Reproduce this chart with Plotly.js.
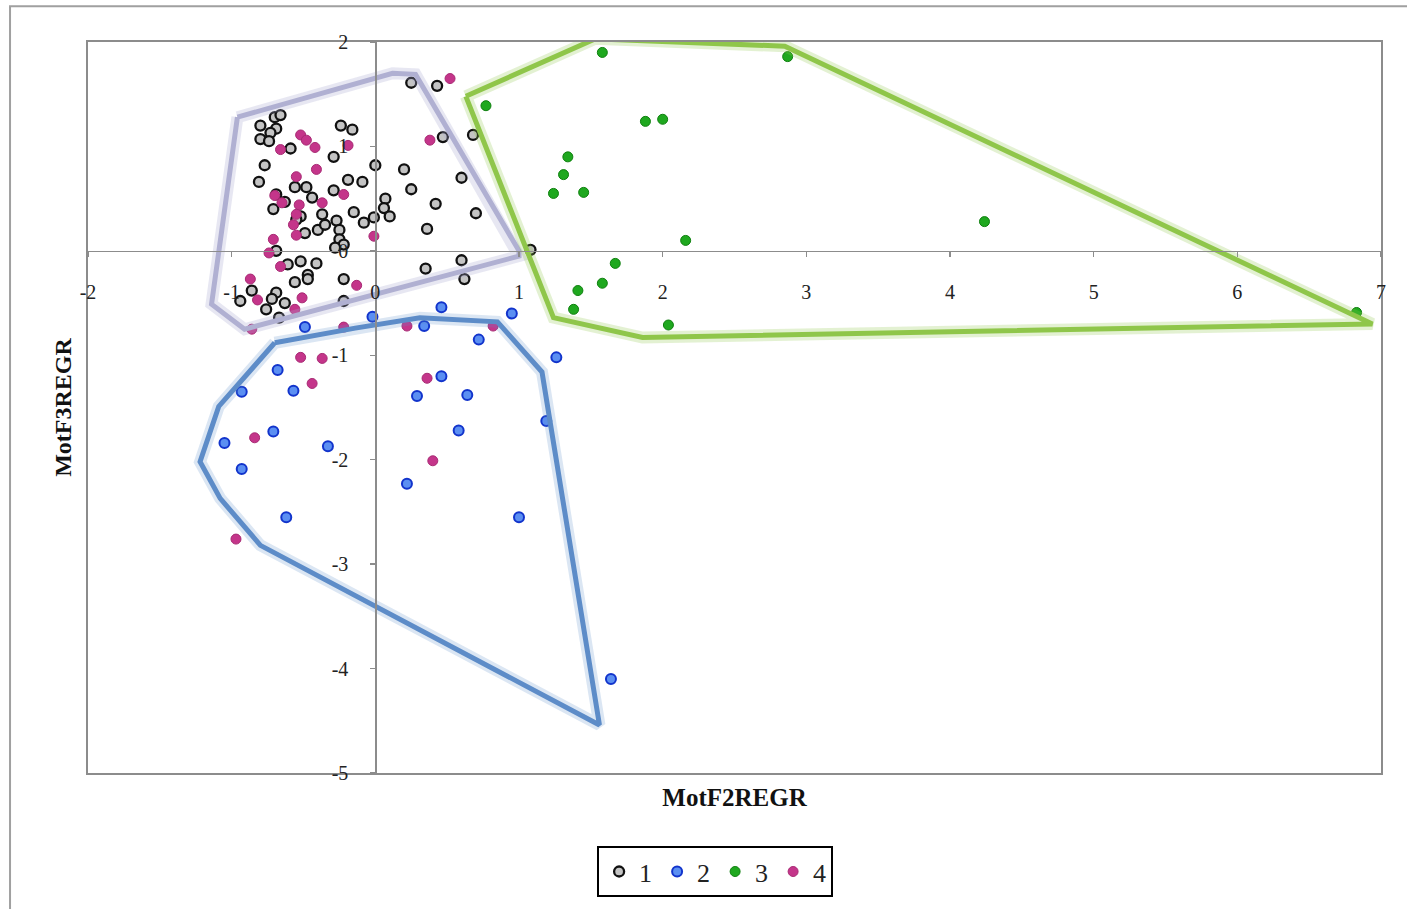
<!DOCTYPE html>
<html>
<head>
<meta charset="utf-8">
<script src="https://cdn.plot.ly/plotly-3.0.1.min.js"></script>
<style>html,body{margin:0;padding:0;background:#fff;}#chart{width:1407px;height:909px;}</style>
</head>
<body>
<div id="chart"></div>
<script>
// ---- data ----
const seriesNames = ["1", "2", "3", "4"];

const g1x = [0.25,0.43,-0.70,-0.66,-0.80,-0.69,-0.73,-0.80,-0.74,-0.24,-0.16,-0.59,0.47,0.68,-0.29,0.00,0.20,-0.77,-0.81,0.25,0.60,-0.19,-0.09,-0.48,-0.56,-0.29,0.42,0.70,0.07,0.06,0.10,-0.01,-0.08,-0.15,0.36,-0.27,-0.25,-0.25,-0.22,-0.28,-0.40,-0.35,-0.49,-0.52,-0.71,-0.69,-0.63,-0.44,-0.37,-0.55,-0.69,-0.61,-0.52,-0.41,-0.47,-0.47,-0.56,-0.22,-0.86,-0.94,-0.69,-0.63,-0.72,-0.76,-0.67,-0.22,0.35,0.60,0.62,1.08];
const g1y = [1.61,1.58,1.28,1.30,1.20,1.17,1.13,1.07,1.05,1.20,1.16,0.98,1.09,1.11,0.90,0.82,0.78,0.82,0.66,0.59,0.70,0.68,0.66,0.61,0.61,0.58,0.45,0.36,0.50,0.41,0.33,0.32,0.27,0.37,0.21,0.29,0.20,0.11,0.06,0.03,0.20,0.25,0.17,0.33,0.40,0.54,0.47,0.51,0.35,0.30,0.00,-0.13,-0.10,-0.12,-0.23,-0.27,-0.30,-0.27,-0.38,-0.48,-0.40,-0.50,-0.46,-0.56,-0.64,-0.48,-0.17,-0.09,-0.27,0.01];

const g2x = [0.46,0.95,-0.02,-0.49,0.34,0.72,1.26,-0.68,-0.93,-0.57,0.46,0.29,0.64,-0.71,-1.05,-0.33,0.58,1.19,-0.93,0.22,-0.62,1.00,1.64];
const g2y = [-0.54,-0.60,-0.63,-0.73,-0.72,-0.85,-1.02,-1.14,-1.35,-1.34,-1.20,-1.39,-1.38,-1.73,-1.84,-1.87,-1.72,-1.63,-2.09,-2.23,-2.55,-2.55,-4.10];

const g3x = [1.58,2.87,0.77,1.88,2.00,1.34,1.31,1.24,1.45,4.24,2.16,1.67,1.58,1.41,1.38,2.04,6.83];
const g3y = [1.90,1.86,1.39,1.24,1.26,0.90,0.73,0.55,0.56,0.28,0.10,-0.12,-0.31,-0.38,-0.56,-0.71,-0.59];

const g4x = [0.52,-0.52,-0.48,-0.42,-0.66,-0.19,0.38,-0.41,-0.55,-0.22,-0.70,-0.65,-0.37,-0.53,-0.55,-0.57,-0.55,-0.71,-0.01,-0.74,-0.66,-0.87,-0.82,-0.51,-0.56,-0.13,-0.86,-0.22,0.22,0.82,-0.52,-0.37,-0.44,0.36,-0.84,0.40,-0.97];
const g4y = [1.65,1.11,1.06,0.99,0.97,1.01,1.06,0.78,0.71,0.54,0.53,0.46,0.46,0.44,0.35,0.25,0.15,0.11,0.14,-0.02,-0.15,-0.27,-0.47,-0.45,-0.56,-0.33,-0.75,-0.73,-0.72,-0.72,-1.02,-1.03,-1.27,-1.22,-1.79,-2.01,-2.76];

// hand-drawn cluster outlines
const hull1x = [-0.96,0.12,0.28,1.00,1.00,-0.91,-1.14,-0.96];
const hull1y = [1.28,1.70,1.69,0.00,-0.05,-0.75,-0.51,1.28];
const hull2x = [-0.70,-0.14,0.31,0.85,1.16,1.56,-0.80,-1.08,-1.22,-1.09,-0.70];
const hull2y = [-0.88,-0.74,-0.64,-0.68,-1.16,-4.54,-2.82,-2.37,-2.02,-1.49,-0.88];
const hull3x = [0.63,1.53,2.85,6.94,1.86,1.24,0.63];
const hull3y = [1.48,2.03,1.96,-0.70,-0.83,-0.64,1.48];

const xTicks = [-2,-1,0,1,2,3,4,5,6,7];
const yTicks = [-5,-4,-3,-2,-1,0,1,2];
const xRange = [-2, 7];
const yRange = [-5, 2];

// ---- styles ----
const serif = "Liberation Serif, Times New Roman, serif";
const markerStyles = [
  {size: 10, color: "#c4c4c4", line: {color: "#111111", width: 2.3}},
  {size: 10, color: "#5b8ff2", line: {color: "#1234cc", width: 2}},
  {size: 10, color: "#1fa81f", line: {color: "#0f800f", width: 1}},
  {size: 10, color: "#c4358a", line: {color: "#a82a74", width: 1}}
];
const groupsX = [g1x, g2x, g3x, g4x];
const groupsY = [g1y, g2y, g3y, g4y];

const traces = [];
for (let i = 0; i < 4; i++) {
  traces.push({
    type: "scatter", mode: "markers", name: seriesNames[i],
    x: groupsX[i], y: groupsY[i], marker: markerStyles[i],
    cliponaxis: false, hoverinfo: "x+y"
  });
}
// outlines drawn on the overlaid (zero-crossing) axes so those axes are rendered
const hulls = [
  {x: hull1x, y: hull1y, c: "#b0b0d2", glow: "rgba(170,170,210,0.28)"},
  {x: hull2x, y: hull2y, c: "#5d8cc8", glow: "rgba(93,140,200,0.22)"},
  {x: hull3x, y: hull3y, c: "#8fc64a", glow: "rgba(143,198,74,0.25)"}
];
hulls.forEach(h => {
  traces.push({type: "scatter", mode: "lines", x: h.x, y: h.y, xaxis: "x2", yaxis: "y2",
    showlegend: false, hoverinfo: "skip", line: {color: h.glow, width: 12}});
  traces.push({type: "scatter", mode: "lines", x: h.x, y: h.y, xaxis: "x2", yaxis: "y2",
    showlegend: false, hoverinfo: "skip", line: {color: h.c, width: 5}});
});

const layout = {
  width: 1407, height: 909,
  margin: {l: 88, r: 26, t: 42, b: 134},
  paper_bgcolor: "#ffffff", plot_bgcolor: "#ffffff",
  showlegend: true,
  xaxis: {
    range: xRange, showgrid: false, zeroline: false, showticklabels: false, ticks: "",
    showline: true, mirror: true, linecolor: "#8c8c8c", linewidth: 2,
    title: {text: "MotF2REGR", font: {family: serif, size: 25, color: "#111", weight: "bold"}, standoff: 14}
  },
  yaxis: {
    range: yRange, showgrid: false, zeroline: false, showticklabels: false, ticks: "",
    showline: true, mirror: true, linecolor: "#8c8c8c", linewidth: 2,
    title: {text: "MotF3REGR", font: {family: serif, size: 24, color: "#111", weight: "bold"}, standoff: 8}
  },
  xaxis2: {
    overlaying: "x", anchor: "free", position: (0 - yRange[0]) / (yRange[1] - yRange[0]),
    range: xRange, tickmode: "array", tickvals: xTicks, ticktext: xTicks.map(String),
    ticks: "outside", ticklen: 5, tickwidth: 1.5, tickcolor: "#8c8c8c",
    showline: true, linecolor: "#8c8c8c", linewidth: 1.5, showgrid: false, zeroline: false,
    tickfont: {family: serif, size: 20, color: "#222"}, ticklabelstandoff: 18
  },
  yaxis2: {
    overlaying: "y", anchor: "free", side: "left", position: (0 - xRange[0]) / (xRange[1] - xRange[0]),
    range: yRange, tickmode: "array", tickvals: yTicks, ticktext: yTicks.map(String),
    ticks: "outside", ticklen: 5, tickwidth: 1.5, tickcolor: "#8c8c8c",
    showline: true, linecolor: "#8c8c8c", linewidth: 1.5, showgrid: false, zeroline: false,
    tickfont: {family: serif, size: 20, color: "#222"}, ticklabelstandoff: 18
  },
  legend: {
    orientation: "h", x: 0.485, xanchor: "center", y: -0.1, yanchor: "top",
    bordercolor: "#000", borderwidth: 2, bgcolor: "#fff",
    font: {family: serif, size: 26, color: "#222"}, itemwidth: 30, traceorder: "normal"
  },
  shapes: [
    {type: "rect", xref: "paper", yref: "paper", x0: -0.0603, x1: 1.05, y0: -0.25, y1: 1.049,
     line: {color: "#a0a0a0", width: 2}, layer: "below"}
  ]
};

Plotly.newPlot("chart", traces, layout, {displayModeBar: false, staticPlot: true});
</script>
</body>
</html>
